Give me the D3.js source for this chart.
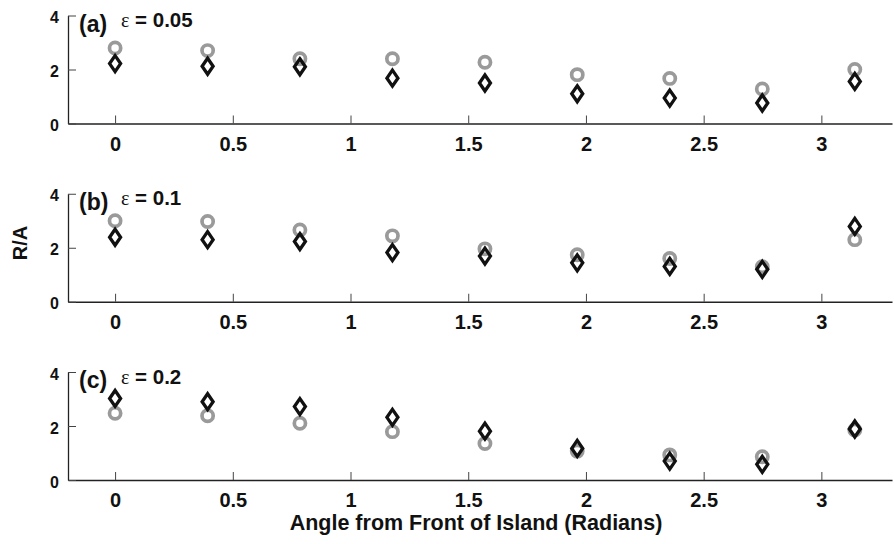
<!DOCTYPE html>
<html>
<head>
<meta charset="utf-8">
<script src="https://cdn.jsdelivr.net/npm/d3@7"></script>
<style>
  html, body { margin: 0; padding: 0; background: #fff; }
  svg { display: block; }
  .tick text { font-family: "Liberation Sans", Arial, sans-serif; font-weight: bold; fill: #111; }
</style>
</head>
<body>
<svg id="chart" width="894" height="544"></svg>
<script>
// Angle of each sample point around the island (radians)
const angles = [0, 0.393, 0.785, 1.178, 1.571, 1.963, 2.356, 2.749, 3.142];

const xTicks = [0, 0.5, 1, 1.5, 2, 2.5, 3];
const yTicks = [0, 2, 4];

const panelNames = ["(a)", "(b)", "(c)"];
const epsilons = ["0.05", "0.1", "0.2"];

// Grey circles, one array per panel
const circleA = [2.80, 2.70, 2.40, 2.40, 2.27, 1.81, 1.67, 1.28, 2.00];
const circleB = [3.00, 2.97, 2.66, 2.44, 1.96, 1.74, 1.60, 1.30, 2.30];
const circleC = [2.47, 2.38, 2.10, 1.79, 1.35, 1.07, 0.93, 0.86, 1.85];

// Black diamonds, one array per panel
const diamondA = [2.22, 2.12, 2.10, 1.68, 1.50, 1.10, 0.94, 0.76, 1.56];
const diamondB = [2.39, 2.30, 2.23, 1.82, 1.69, 1.44, 1.31, 1.20, 2.79];
const diamondC = [3.02, 2.90, 2.72, 2.32, 1.81, 1.17, 0.70, 0.58, 1.89];

const circles = [circleA, circleB, circleC];
const diamonds = [diamondA, diamondB, diamondC];

const svg = d3.select("#chart");
svg.append("rect").attr("width", 894).attr("height", 544).attr("fill", "#fff");

const left = 68, right = 892;
const panelTop0 = 15.5, panelStep = 178.25, panelH = 108;

const x = d3.scaleLinear().domain([-0.2, 3.3]).range([left, right]);

const sans = "'Liberation Sans', Arial, sans-serif";
const axisColor = "#222";

// Diamond path centred on the origin
const dw = 5.5, dh = 8;
const diamondPath = `M0,${-dh}L${dw},0L0,${dh}L${-dw},0Z`;

panelNames.forEach((name, i) => {
  const top = panelTop0 + i * panelStep;
  const y = d3.scaleLinear().domain([0, 4]).range([top + panelH, top]);
  const g = svg.append("g");

  // x axis
  const gx = g.append("g")
    .attr("transform", `translate(0,${y(0)})`)
    .call(d3.axisBottom(x).tickValues(xTicks).tickFormat(d3.format("~g"))
      .tickSizeInner(-8).tickSizeOuter(0).tickPadding(13));
  gx.select(".domain").attr("stroke", axisColor).attr("stroke-width", 1.4);
  gx.selectAll(".tick line").attr("stroke", "#444").attr("stroke-width", 1);
  gx.selectAll(".tick text").attr("font-size", 20);

  // y axis
  const gy = g.append("g")
    .attr("transform", `translate(${left},0)`)
    .call(d3.axisLeft(y).tickValues(yTicks).tickFormat(d3.format("~g"))
      .tickSizeInner(-8).tickSizeOuter(0).tickPadding(9));
  gy.select(".domain").attr("stroke", axisColor).attr("stroke-width", 1.3);
  gy.selectAll(".tick line").attr("stroke", "#444").attr("stroke-width", 1);
  gy.selectAll(".tick text").attr("font-size", 16).attr("dy", "0.45em");

  // panel letter and epsilon annotation
  g.append("text")
    .attr("x", 79).attr("y", top + 16)
    .attr("font-family", sans).attr("font-weight", "bold")
    .attr("font-size", 23).attr("fill", "#111")
    .text(name);
  const eps = g.append("text")
    .attr("x", 121).attr("y", top + 11.5)
    .attr("font-family", sans).attr("font-weight", "bold")
    .attr("font-size", 20.5).attr("fill", "#111");
  eps.append("tspan").attr("font-family", "'Liberation Serif', 'Times New Roman', serif")
    .attr("font-weight", "normal").attr("font-size", 20).text("ε");
  eps.append("tspan").text(" = " + epsilons[i]);

  // grey circles
  g.append("g").selectAll("circle")
    .data(angles.map((a, k) => [a, circles[i][k]]))
    .join("circle")
    .attr("cx", d => x(d[0])).attr("cy", d => y(d[1]))
    .attr("r", 5.6)
    .attr("fill", "none").attr("stroke", "#9a9a9a").attr("stroke-width", 3.7);

  // black diamonds
  g.append("g").selectAll("path")
    .data(angles.map((a, k) => [a, diamonds[i][k]]))
    .join("path")
    .attr("d", diamondPath)
    .attr("transform", d => `translate(${x(d[0])},${y(d[1])})`)
    .attr("fill", "none").attr("stroke", "#111").attr("stroke-width", 3.3)
    .attr("stroke-linejoin", "miter");
});

// shared axis titles
svg.append("text")
  .attr("transform", "translate(27,243) rotate(-90)")
  .attr("text-anchor", "middle")
  .attr("font-family", sans).attr("font-weight", "bold")
  .attr("font-size", 20).attr("fill", "#111")
  .text("R/A");

svg.append("text")
  .attr("x", 476).attr("y", 530)
  .attr("text-anchor", "middle")
  .attr("font-family", sans).attr("font-weight", "bold")
  .attr("font-size", 21.5).attr("fill", "#111")
  .text("Angle from Front of Island (Radians)");
</script>
</body>
</html>
